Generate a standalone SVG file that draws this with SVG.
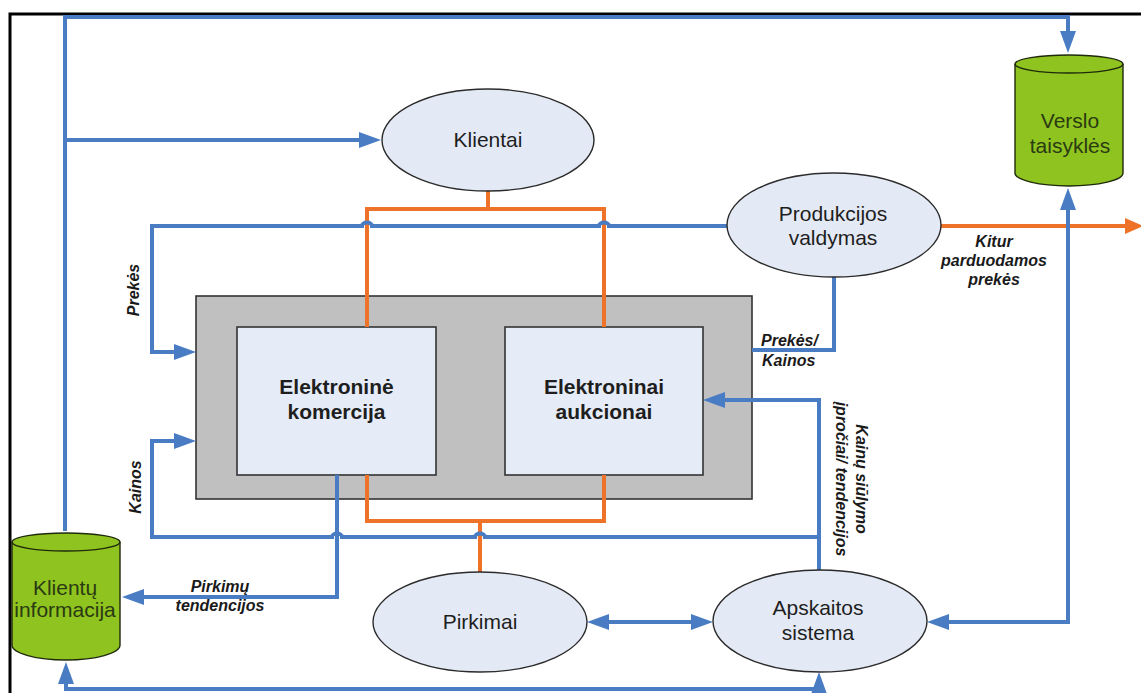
<svg xmlns="http://www.w3.org/2000/svg" width="1141" height="693" viewBox="0 0 1141 693">
  <style>
    .ell { fill: #E4EAF5; stroke: #2b2b2b; stroke-width: 1.4; }
    .box { fill: #E6ECF7; stroke: #333; stroke-width: 1.6; }
    .outer { fill: #C0C0C0; stroke: #333; stroke-width: 1.6; }
    .cyl { fill: #8FC31F; stroke: #1f2a0c; stroke-width: 1.4; }
    .blue { fill: none; stroke: #4A7CC4; stroke-width: 4; stroke-linejoin: miter; }
    .orange { fill: none; stroke: #EE7228; stroke-width: 4; stroke-linejoin: miter; }
    .t { font-family: "Liberation Sans", Arial, sans-serif; font-size: 21px; fill: #1e1e1e; text-anchor: middle; }
    .tb { font-family: "Liberation Sans", Arial, sans-serif; font-size: 21px; font-weight: bold; fill: #1e1e1e; text-anchor: middle; }
    .tc { font-family: "Liberation Sans", Arial, sans-serif; font-size: 21px; fill: #2a3a12; text-anchor: middle; }
    .lbl { font-family: "Liberation Sans", Arial, sans-serif; font-size: 16px; font-weight: bold; font-style: italic; fill: #1a1a1a; }
  </style>
  <defs>
    <marker id="ab" markerUnits="userSpaceOnUse" markerWidth="22" markerHeight="16" refX="14" refY="8" orient="auto-start-reverse">
      <path d="M0,0 L22,8 L0,16 z" fill="#4A7CC4"/>
    </marker>
    <marker id="ao" markerUnits="userSpaceOnUse" markerWidth="18" markerHeight="16" refX="8" refY="8" orient="auto">
      <path d="M0,0 L18,8 L0,16 z" fill="#EE7228"/>
    </marker>
  </defs>

  <rect x="0" y="0" width="1141" height="693" fill="#fff"/>
  <!-- page frame -->
  <path d="M10,693 V14 H1141" fill="none" stroke="#000" stroke-width="3"/>

  <!-- central block -->
  <g id="sistema">
    <rect class="outer" x="196" y="296" width="556" height="203"/>
  </g>
  <g id="el-komercija">
    <rect class="box" x="237" y="327" width="199" height="148"/>
    <text class="tb" x="336.5" y="394">Elektroninė</text>
    <text class="tb" x="336.5" y="419">komercija</text>
  </g>
  <g id="el-aukcionai">
    <rect class="box" x="505" y="327" width="198" height="148"/>
    <text class="tb" x="604" y="394">Elektroninai</text>
    <text class="tb" x="604" y="419">aukcionai</text>
  </g>

  <!-- connectors -->
  <g id="connectors">
    <!-- orange links -->
    <path class="orange" d="M488,191 V209"/>
    <path class="orange" d="M367,327 V209 H604 V327"/>
    <path class="orange" d="M367,475 V521 H604 V475"/>
    <path class="orange" d="M480,521 V572"/>
    <path class="orange" d="M940,226 H1133" marker-end="url(#ao)"/>

    <!-- blue flows (small hops where they cross another line) -->
    <path class="blue" d="M65,531 V17 H1068 V45" marker-end="url(#ab)"/>
    <path class="blue" d="M65,140 H373" marker-end="url(#ab)"/>
    <path class="blue" d="M935,622 H1068 V196" marker-start="url(#ab)" marker-end="url(#ab)"/>
    <path class="blue" d="M727,226 H609 a5,3.5 0 0 0 -10,0 H372 a5,3.5 0 0 0 -10,0 H152 V352 H188" marker-end="url(#ab)"/>
    <path class="blue" d="M834,277 V350 H752"/>
    <path class="blue" d="M819,570 V400 H711" marker-end="url(#ab)"/>
    <path class="blue" d="M819,537 H485 a5,3.5 0 0 0 -10,0 H342 a5,3.5 0 0 0 -10,0 H152 V441 H188" marker-end="url(#ab)"/>
    <path class="blue" d="M337,475 V597 H130" marker-end="url(#ab)"/>
    <path class="blue" d="M595,622 H705" marker-start="url(#ab)" marker-end="url(#ab)"/>
    <path class="blue" d="M66,670 V689 H819 V680" marker-start="url(#ab)" marker-end="url(#ab)"/>

    <!-- flow labels -->
    <text class="lbl" transform="translate(139,290) rotate(-90)" text-anchor="middle">Prekės</text>
    <text class="lbl" transform="translate(141,487) rotate(-90)" text-anchor="middle">Kainos</text>
    <text class="lbl" x="761" y="346">Prekės/</text>
    <text class="lbl" x="762" y="366">Kainos</text>
    <text class="lbl" x="994" y="247" text-anchor="middle">Kitur</text>
    <text class="lbl" x="994" y="266" text-anchor="middle">parduodamos</text>
    <text class="lbl" x="994" y="285" text-anchor="middle">prekės</text>
    <g transform="translate(856,479) rotate(90)">
      <text class="lbl" x="0" y="0" text-anchor="middle">Kainų siūlymo</text>
      <text class="lbl" x="0" y="20" text-anchor="middle">įpročiai/ tendencijos</text>
    </g>
    <text class="lbl" x="220" y="592" text-anchor="middle">Pirkimų</text>
    <text class="lbl" x="220" y="611" text-anchor="middle">tendencijos</text>
  </g>

  <!-- process ellipses -->
  <g id="klientai">
    <ellipse class="ell" cx="488" cy="140" rx="106" ry="51"/>
    <text class="t" x="488" y="147">Klientai</text>
  </g>
  <g id="produkcijos-valdymas">
    <ellipse class="ell" cx="834" cy="225" rx="107" ry="52"/>
    <text class="t" x="833" y="221">Produkcijos</text>
    <text class="t" x="833" y="245">valdymas</text>
  </g>
  <g id="pirkimai">
    <ellipse class="ell" cx="480" cy="622" rx="107" ry="50"/>
    <text class="t" x="480" y="629">Pirkimai</text>
  </g>
  <g id="apskaitos-sistema">
    <ellipse class="ell" cx="820" cy="621" rx="107" ry="51"/>
    <text class="t" x="818" y="615">Apskaitos</text>
    <text class="t" x="818" y="640">sistema</text>
  </g>

  <!-- data stores -->
  <g id="verslo-taisykles">
    <path class="cyl" d="M1015,64 A54,9 0 0 1 1123,64 V173 A54,13 0 0 1 1015,173 Z"/>
    <path d="M1015,64 A54,9 0 0 0 1123,64" fill="none" stroke="#1f2a0c" stroke-width="1.4"/>
    <text class="tc" x="1070" y="128">Verslo</text>
    <text class="tc" x="1070" y="153">taisyklės</text>
  </g>
  <g id="klientu-informacija">
    <path class="cyl" d="M12,542 A54,9 0 0 1 120,542 V645 A54,15 0 0 1 12,645 Z"/>
    <path d="M12,542 A54,9 0 0 0 120,542" fill="none" stroke="#1f2a0c" stroke-width="1.4"/>
    <text class="tc" x="65" y="595">Klientų</text>
    <text class="tc" x="65" y="617">informacija</text>
  </g>
</svg>
